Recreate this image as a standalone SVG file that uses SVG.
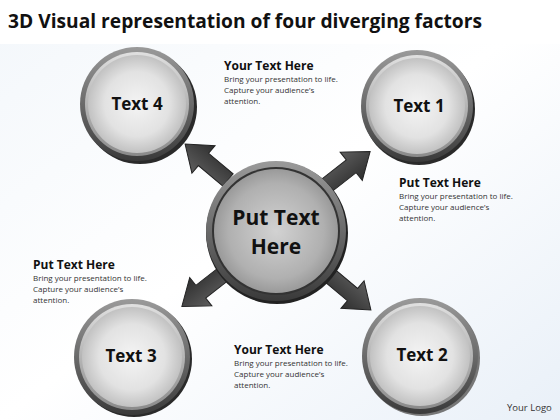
<svg xmlns="http://www.w3.org/2000/svg" width="560" height="420" viewBox="0 0 560 420">
<defs>
<linearGradient id="bg" x1="0" y1="0" x2="1" y2="1">
<stop offset="0" stop-color="#f3f7fb"/><stop offset="0.5" stop-color="#ffffff"/><stop offset="1" stop-color="#e9f0f8"/>
</linearGradient>
<linearGradient id="rim" x1="0" y1="0" x2="0" y2="1">
<stop offset="0" stop-color="#9a9a9a"/><stop offset="0.5" stop-color="#6a6a6a"/><stop offset="1" stop-color="#3a3a3a"/>
</linearGradient>
<linearGradient id="rim2" x1="0" y1="0" x2="0" y2="1">
<stop offset="0" stop-color="#e0e0e0"/><stop offset="1" stop-color="#8a8a8a"/>
</linearGradient>
<radialGradient id="face" cx="0.5" cy="0.5" r="0.55">
<stop offset="0" stop-color="#f4f4f4"/><stop offset="0.6" stop-color="#e2e2e2"/><stop offset="1" stop-color="#b8b8b8"/>
</radialGradient>
<radialGradient id="cface" cx="0.5" cy="0.5" r="0.55">
<stop offset="0" stop-color="#d2d2d2"/><stop offset="0.7" stop-color="#b0b0b0"/><stop offset="1" stop-color="#909090"/>
</radialGradient>
<linearGradient id="arr" x1="0" y1="0" x2="0" y2="1">
<stop offset="0" stop-color="#5e5e5e"/><stop offset="1" stop-color="#2e2e2e"/>
</linearGradient>
<path id="arrow" d="M0,-8 L32,-8 L32,-18 L56,0 L32,18 L32,8 L0,8 Z"/>
</defs>
<style>
.title{font-family:"Open Sans","Liberation Sans",sans-serif;font-weight:bold;font-size:20px;fill:#111}
.lbl{font-family:"Open Sans","Liberation Sans",sans-serif;font-weight:bold;font-size:17px;fill:#111;text-anchor:middle}
.clbl{font-family:"Open Sans","Liberation Sans",sans-serif;font-weight:bold;font-size:21px;fill:#111;text-anchor:middle}
.h{font-family:"Open Sans","Liberation Sans",sans-serif;font-weight:bold;font-size:12px;fill:#111}
.b{font-family:"Open Sans","Liberation Sans",sans-serif;font-size:8px;fill:#333}
.logo{font-family:"Open Sans","Liberation Sans",sans-serif;font-size:9.5px;fill:#333}
.shadow{fill:#2a2a2a}
.arrowshape{fill:url(#arr);stroke:#222;stroke-width:1}
</style>
<rect x="0" y="0" width="560" height="420" fill="url(#bg)"/>
<rect x="0" y="0" width="560" height="44" fill="#ffffff"/>
<text class="title" x="8" y="28" textLength="474" lengthAdjust="spacingAndGlyphs">3D Visual representation of four diverging factors</text>

<g id="connectors">
<use href="#arrow" class="arrowshape" transform="translate(228,180) rotate(-140)"/>
<use href="#arrow" class="arrowshape" transform="translate(326,186) rotate(-38)"/>
<use href="#arrow" class="arrowshape" transform="translate(226,272) rotate(142)"/>
<use href="#arrow" class="arrowshape" transform="translate(328,274) rotate(40)"/>
</g>

<g id="node-text4">
<circle cx="140" cy="107" r="57" class="shadow"/>
<circle cx="137" cy="104" r="57" fill="url(#rim)"/>
<circle cx="137" cy="104" r="52" fill="url(#rim2)"/>
<circle cx="137" cy="104" r="49" fill="url(#face)"/>
<text class="lbl" x="137" y="110">Text 4</text>
</g>

<g id="node-text1">
<circle cx="419" cy="109" r="56" class="shadow"/>
<circle cx="417" cy="106" r="56" fill="url(#rim)"/>
<circle cx="417" cy="106" r="51" fill="url(#rim2)"/>
<circle cx="417" cy="106" r="48" fill="url(#face)"/>
<text class="lbl" x="419" y="112">Text 1</text>
</g>

<g id="node-center">
<circle cx="277" cy="233" r="71" fill="#222"/>
<circle cx="276" cy="231" r="70" fill="url(#rim)"/>
<circle cx="276" cy="231" r="64" fill="#333"/>
<circle cx="276" cy="231" r="62" fill="url(#cface)"/>
<text class="clbl" x="276" y="225">Put Text</text>
<text class="clbl" x="276" y="254">Here</text>
</g>

<g id="node-text3">
<circle cx="134" cy="359" r="58" class="shadow"/>
<circle cx="132" cy="357" r="58" fill="url(#rim)"/>
<circle cx="132" cy="357" r="53" fill="url(#rim2)"/>
<circle cx="132" cy="357" r="50" fill="url(#face)"/>
<text class="lbl" x="131" y="362">Text 3</text>
</g>

<g id="node-text2">
<circle cx="422" cy="358" r="58" fill="#777"/>
<circle cx="420" cy="356" r="58" fill="url(#rim)"/>
<circle cx="420" cy="356" r="53" fill="url(#rim2)"/>
<circle cx="420" cy="356" r="50" fill="url(#face)"/>
<text class="lbl" x="422" y="361">Text 2</text>
</g>

<g id="text-top">
<text class="h" x="224" y="70">Your Text Here</text>
<text class="b" x="224" y="82">Bring your presentation to life.</text>
<text class="b" x="224" y="93">Capture your audience’s</text>
<text class="b" x="224" y="104">attention.</text>
</g>
<g id="text-right">
<text class="h" x="399" y="187">Put Text Here</text>
<text class="b" x="399" y="199">Bring your presentation to life.</text>
<text class="b" x="399" y="210">Capture your audience’s</text>
<text class="b" x="399" y="221">attention.</text>
</g>
<g id="text-left">
<text class="h" x="33" y="269">Put Text Here</text>
<text class="b" x="33" y="281">Bring your presentation to life.</text>
<text class="b" x="33" y="292">Capture your audience’s</text>
<text class="b" x="33" y="303">attention.</text>
</g>
<g id="text-bottom">
<text class="h" x="234" y="354">Your Text Here</text>
<text class="b" x="234" y="366">Bring your presentation to life.</text>
<text class="b" x="234" y="377">Capture your audience’s</text>
<text class="b" x="234" y="388">attention.</text>
</g>
<text class="logo" x="507" y="411">Your Logo</text>
</svg>
